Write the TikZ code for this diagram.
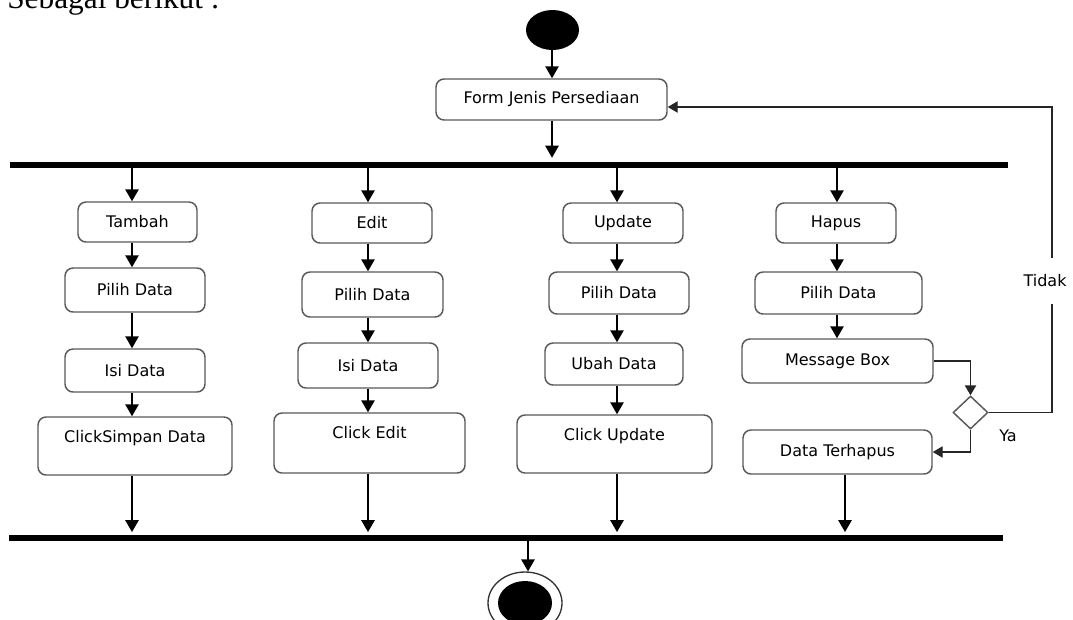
\documentclass[tikz,border=0pt]{standalone}
\usepackage{fontspec}
\setmainfont{DejaVu Sans}
\newfontfamily\headfont{Liberation Serif}
\usetikzlibrary{arrows.meta,shapes.geometric}
\tikzset{
  act/.style={draw=black!65, line width=1.1pt, rounded corners=6pt, fill=white, inner sep=0pt, text=black},
  sz/.style 2 args={minimum width=#1*0.75pt, minimum height=#2*0.75pt},
  toplabel/.style={label={[anchor=north, inner sep=0pt, yshift=-10.5pt]north:{#1}}},
  arr/.style={line width=1.3pt, -{Triangle[width=10pt,length=9pt]}},
  sidearr/.style={line width=1.1pt, draw=black!85, -{Triangle[width=8.5pt,length=7.5pt]}},
  barstyle/.style={fill=black, draw=none, inner sep=0pt}
}
\begin{document}
\fontsize{12}{14}\selectfont
\begin{tikzpicture}[x=0.75pt,y=-0.75pt]
\useasboundingbox (0,0) rectangle (1073,619);

% heading text (cut off at top, as in the reference)
\node[anchor=base west, inner sep=0pt, font=\headfont\fontsize{23.5}{26}\selectfont] (head) at (7,8) {Sebagai berikut :};

% column x positions
\coordinate (x0) at (552,0);
\coordinate (x1) at (132,0);
\coordinate (x2) at (368,0);
\coordinate (x3) at (617,0);
\coordinate (x4) at (837,0);
\coordinate (x4b) at (845,0);
\coordinate (xe) at (528,0);

% start and form
\node[ellipse, fill=black, inner sep=0pt, sz={53}{40}] (start) at (552.5,30) {};
\node[act, sz={231}{41}] (form) at (551.5,99.5) {Form Jenis Persediaan};

% fork bar
\node[barstyle, sz={998}{6}] (fork) at (509,165) {};

% column 1
\node[act, sz={119}{40}] (tambah) at (137.5,222) {Tambah};
\node[act, sz={140}{44}] (pilih1) at (135,290) {Pilih Data};
\node[act, sz={140}{43}] (isi1) at (135,370.5) {Isi Data};
\node[act, sz={194}{58}, toplabel={ClickSimpan Data}] (click1) at (135,446) {};

% column 2
\node[act, sz={120}{40}] (edit) at (372,223) {Edit};
\node[act, sz={141}{45}] (pilih2) at (372.5,294.5) {Pilih Data};
\node[act, sz={140}{45}] (isi2) at (368,365.5) {Isi Data};
\node[act, sz={191}{60}, toplabel={Click Edit}] (click2) at (369.5,443) {};

% column 3
\node[act, sz={120}{40}] (update) at (623,223) {Update};
\node[act, sz={140}{42}] (pilih3) at (619,293) {Pilih Data};
\node[act, sz={138}{42}] (ubah) at (614,364) {Ubah Data};
\node[act, sz={195}{58}, toplabel={Click Update}] (click3) at (614.5,444) {};

% column 4
\node[act, sz={120}{40}] (hapus) at (836,223) {Hapus};
\node[act, sz={167}{42}] (pilih4) at (838.5,293) {Pilih Data};
\node[act, sz={191}{44}] (msg) at (837.5,361) {Message Box};
\node[act, sz={189}{44}] (del) at (837.5,452) {Data Terhapus};
\node[diamond, draw=black!65, line width=1.1pt, fill=white, inner sep=0pt, sz={35}{33}] (dia) at (970.5,412.5) {};

% join bar
\node[barstyle, sz={994}{6}] (join) at (506,538) {};

% end node
\node[ellipse, draw=black!80, line width=1pt, fill=white, inner sep=0pt, sz={74}{62}] (endo) at (525,603) {};
\node[ellipse, fill=black, inner sep=0pt, sz={54}{44}] (endi) at (525,603) {};

% main flow arrows
\draw[arr] (start.south -| x0) -- (form.north -| x0);
\draw[arr] (form.south -| x0) -- ([yshift=3pt]fork.north -| x0);

\foreach \c/\a/\b/\cc/\d in {x1/tambah/pilih1/isi1/click1, x2/edit/pilih2/isi2/click2, x3/update/pilih3/ubah/click3}{
  \draw[arr] (fork.south -| \c) -- (\a.north -| \c);
  \draw[arr] (\a.south -| \c) -- (\b.north -| \c);
  \draw[arr] (\b.south -| \c) -- (\cc.north -| \c);
  \draw[arr] (\cc.south -| \c) -- (\d.north -| \c);
  \draw[arr, shorten >=2pt] (\d.south -| \c) -- (join.north -| \c);
}

\draw[arr] (fork.south -| x4) -- (hapus.north -| x4);
\draw[arr] (hapus.south -| x4) -- (pilih4.north -| x4);
\draw[arr] (pilih4.south -| x4) -- (msg.north -| x4);
\draw[arr, shorten >=2pt] (del.south -| x4b) -- (join.north -| x4b);

% decision
\draw[sidearr] (msg.east) -| (dia.north);
\draw[sidearr] (dia.south) |- (del.east);
\coordinate (fb) at (1052,107);
\draw[sidearr] (dia.east) -| (fb) -- (fb -| form.east);
\node[fill=white, inner xsep=1pt, minimum height=35pt] (tidak) at (1045,281) {Tidak};
\node (ya) at (1008,436) {Ya};

% end arrow
\draw[arr] (join.south -| xe) -- (endo.north -| xe);
\end{tikzpicture}
\end{document}
